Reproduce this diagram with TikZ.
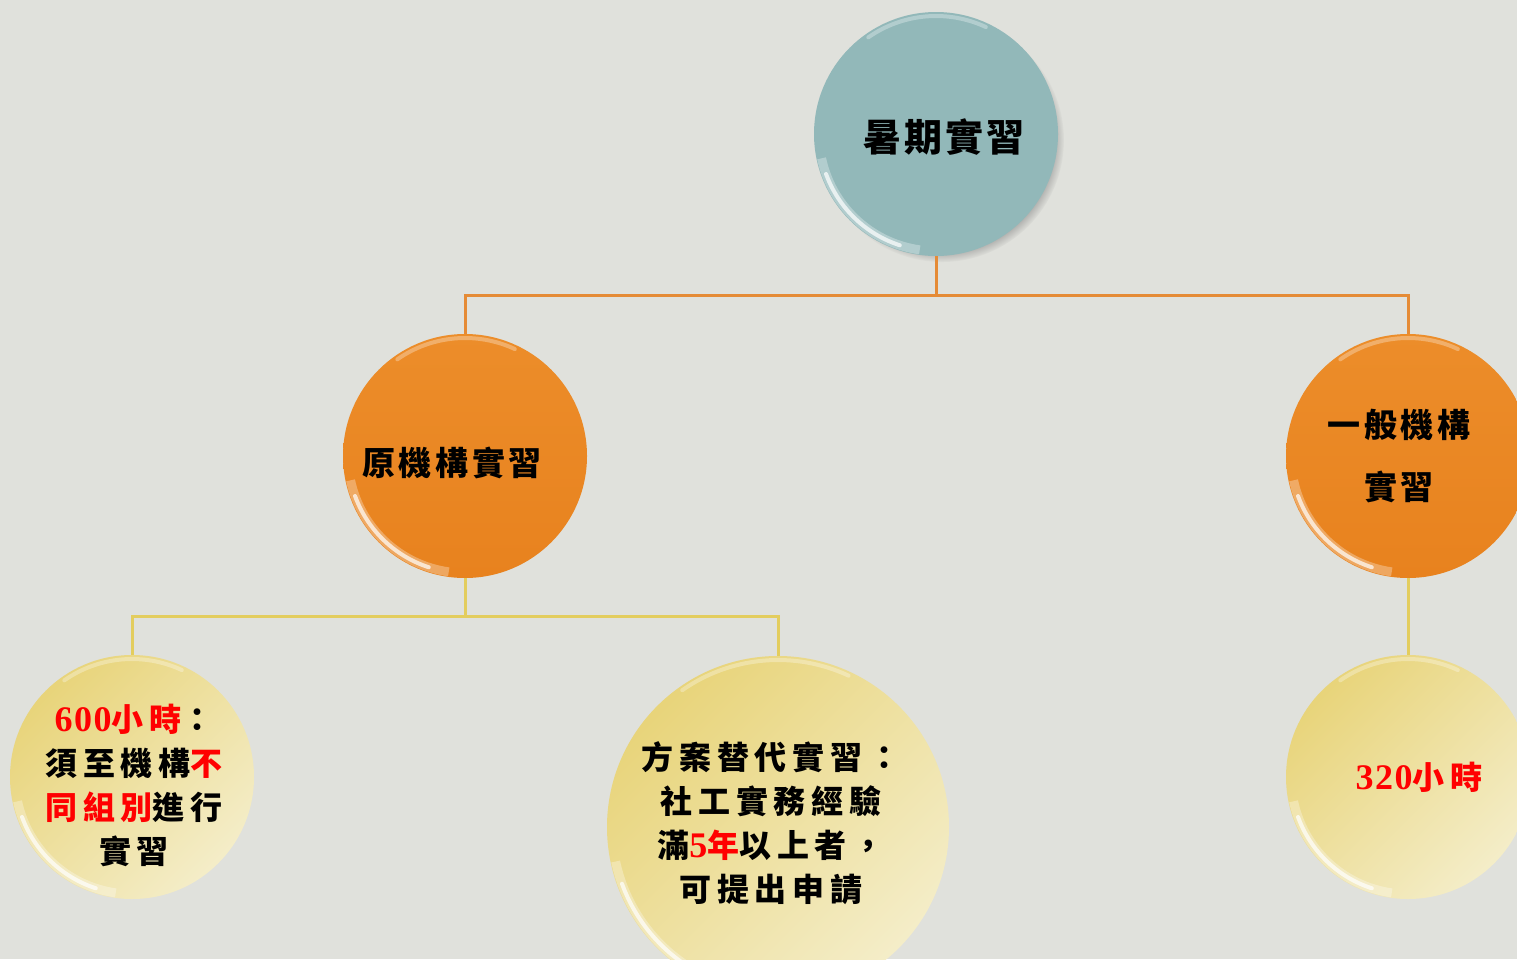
\documentclass[tikz,border=0pt]{standalone}
\usepackage{fontspec}
\setmainfont{Liberation Serif}
\newfontfamily\cjk{Noto Sans CJK TC}[LetterSpace=11]
\newfontfamily\cjkw{Noto Sans CJK TC}[LetterSpace=18]
\newfontfamily\cjktop{Noto Sans CJK TC}[LetterSpace=8]
\newfontfamily\tnr{Liberation Serif}[LetterSpace=4]
\usetikzlibrary{shadows,fadings}
\definecolor{bgc}{HTML}{E0E1DC}
\definecolor{tealc}{HTML}{92B8B9}
\definecolor{orangec}{HTML}{E8821E}
\definecolor{orangeL}{HTML}{EC8D2A}
\definecolor{yelA}{HTML}{E8D47A}
\definecolor{yelB}{HTML}{F4EDC8}
\definecolor{olinec}{HTML}{E58B36}
\definecolor{ylinec}{HTML}{E3CD5E}
\definecolor{redc}{HTML}{FF0000}
\newcommand\redtxt[1]{\textcolor{redc}{#1}}
\newcommand\numtxt[1]{{\tnr\bfseries\fontsize{36}{44}\selectfont #1}}
\newcommand\glossy[2]{%
  \draw[white, opacity=.3, line width=9pt] ([shift={(192:#2-5pt)}]#1.center) arc[start angle=192, end angle=262, radius=#2-5pt];
  \draw[white, opacity=.7, line width=4pt, line cap=round] ([shift={(200:#2-5pt)}]#1.center) arc[start angle=200, end angle=252, radius=#2-5pt];
  \draw[white, opacity=.3, line width=4pt, line cap=round] ([shift={(65:#2-4pt)}]#1.center) arc[start angle=65, end angle=125, radius=#2-4pt];
}
\begin{document}
\begin{tikzpicture}[x=1pt,y=-1pt,
  ball/.style={circle, inner sep=0pt, minimum size=#1},
  tealball/.style={fill=tealc},
  orangeball/.style={top color=orangeL, bottom color=orangec},
  yellowball/.style={top color=yelA, bottom color=yelB, shading angle=45},
  oline/.style={draw=olinec, line width=3pt},
  yline/.style={draw=ylinec, line width=3pt},
  txt/.style={align=center, inner sep=0pt, text=black}]
\useasboundingbox (0,0) rectangle (1517,959);
\fill[bgc] (0,0) rectangle (1517,959);
\clip (0,0) rectangle (1517,959);

\node[ball=244pt, tealball, circular drop shadow={shadow xshift=6pt, shadow yshift=-6pt, shadow scale=1.0, opacity=0.9}] (c0) at (936,134) {};
\node[ball=244pt, orangeball] (c1) at (465,456) {};
\node[ball=244pt, orangeball] (c2) at (1408,456) {};
\node[ball=244pt, yellowball] (c3) at (132,777) {};
\node[ball=342pt, yellowball] (c4) at (778,827) {};
\node[ball=244pt, yellowball] (c5) at (1408,777) {};

\glossy{c0}{122pt}
\glossy{c1}{122pt}
\glossy{c2}{122pt}
\glossy{c3}{122pt}
\glossy{c4}{171pt}
\glossy{c5}{122pt}

\draw[oline] (c0.south) -- ++(0,39) coordinate (j0) -| (c1.north);
\draw[oline] (j0) -| (c2.north);
\draw[yline] (c1.south) -- ++(0,38) coordinate (j1) -| (c3.north);
\draw[yline] (j1) -| (c4.north);
\draw[yline] (c2.south) -- (c5.north);

\node[txt, font=\cjktop\bfseries\fontsize{38}{44}\selectfont] (t0) at (944,137) {暑期實習};
\node[txt, font=\cjk\bfseries\fontsize{33}{44}\selectfont] (t1) at (452,463) {原機構實習};
\node[txt, font=\cjk\bfseries\fontsize{33}{62}\selectfont] (t2) at (1399,456) {一般機構\\實習};
\node[txt, font=\cjkw\bfseries\fontsize{32}{44}\selectfont] (t3) at (134,785) {\redtxt{\numtxt{600}小時}：\\須至機構\redtxt{不}\\\redtxt{同組別}進行\\實習};
\node[txt, font=\cjkw\bfseries\fontsize{32}{44}\selectfont] (t4) at (771,823) {方案替代實習：\\社工實務經驗\\滿\redtxt{\numtxt{5}年}以上者，\\可提出申請};
\node[txt, font=\cjkw\bfseries\fontsize{32}{44}\selectfont] (t5) at (1419,777) {\redtxt{\numtxt{320}小時}};
\end{tikzpicture}
\end{document}
